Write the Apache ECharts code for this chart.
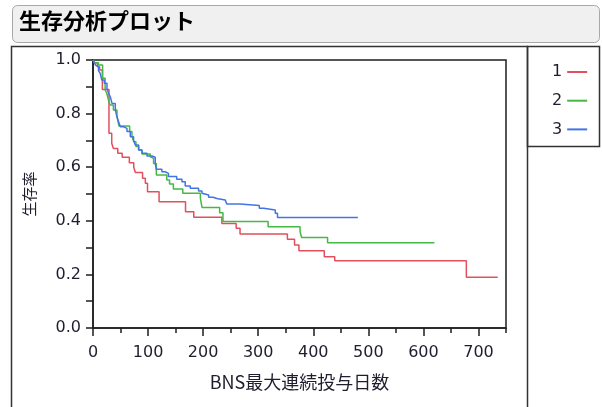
<!DOCTYPE html>
<html>
<head>
<meta charset="utf-8">
<script src="https://cdn.jsdelivr.net/npm/echarts@6/dist/echarts.min.js"></script>
<style>
html,body{margin:0;padding:0;background:#fff;}
#main{width:602px;height:407px;}
</style>
</head>
<body>
<div id="main"></div>
<script>
// ---- data ----
const titleText = '生存分析プロット';
const xTitle = 'BNS最大連続投与日数';
const yTitle = '生存率';
const groupNames = ['1', '2', '3'];

const redT = [0, 3, 8, 12, 17, 29, 34, 37, 45, 53, 66, 74, 77, 90, 95, 99, 120, 168, 183, 234, 260, 267, 353, 366, 374, 420, 439, 678, 735];
const redS = [1.0, 0.99, 0.975, 0.963, 0.89, 0.727, 0.689, 0.67, 0.652, 0.637, 0.617, 0.6, 0.58, 0.559, 0.54, 0.508, 0.471, 0.434, 0.413, 0.39, 0.372, 0.351, 0.331, 0.31, 0.288, 0.266, 0.251, 0.189, 0.189];

const greenT = [0, 3, 10, 17.5, 22, 25, 28, 31, 37, 43.5, 45.5, 47, 66.5, 70.7, 74, 78, 83, 89, 104, 107, 110, 115, 134, 139, 146, 163, 195, 198, 230, 236, 318, 376, 379, 426, 620];
const greenS = [1.0, 0.99, 0.981, 0.932, 0.888, 0.876, 0.851, 0.832, 0.813, 0.788, 0.77, 0.754, 0.733, 0.716, 0.695, 0.677, 0.664, 0.649, 0.639, 0.633, 0.614, 0.571, 0.552, 0.537, 0.519, 0.503, 0.484, 0.45, 0.43, 0.397, 0.378, 0.359, 0.338, 0.318, 0.318];

const blueT = [0, 2, 5, 7, 10, 13, 16, 20.5, 25.4, 28.3, 31.4, 34.5, 40.5, 43.6, 46.5, 49.6, 55.6, 61.7, 67.7, 73.7, 76.8, 82.8, 88.9, 98, 107, 113, 115, 125, 131, 137, 152, 161.5, 167.5, 176.6, 191.7, 197.9, 201, 210, 218, 225, 240, 243, 267, 302, 310, 331, 335, 481];
const blueS = [1.0, 0.99, 0.98, 0.975, 0.96, 0.95, 0.925, 0.913, 0.894, 0.876, 0.863, 0.838, 0.813, 0.788, 0.77, 0.751, 0.745, 0.733, 0.714, 0.701, 0.683, 0.664, 0.652, 0.642, 0.637, 0.614, 0.592, 0.583, 0.577, 0.565, 0.555, 0.546, 0.53, 0.521, 0.511, 0.503, 0.496, 0.488, 0.483, 0.478, 0.471, 0.463, 0.457, 0.447, 0.44, 0.428, 0.412, 0.412];

const seriesColors = ['#e0505e', '#45b845', '#4374e6'];

const pairs = (t, s) => t.map((v, i) => [v, s[i]]);
const curves = [pairs(redT, redS), pairs(greenT, greenS), pairs(blueT, blueS)];

const chart = echarts.init(document.getElementById('main'), null, {renderer: 'canvas'});
const axisColor = '#1e1e1e';
const labelFont = 'DejaVu Sans';
const cjkFont = '"Noto Sans CJK JP"';

chart.setOption({
  animation: false,
  backgroundColor: '#ffffff',
  textStyle: {fontFamily: labelFont},
  grid: {left: 93, right: 96, top: 60, bottom: 79, show: true, borderColor: axisColor, borderWidth: 1.5, backgroundColor: '#fff'},
  legend: {
    orient: 'vertical', left: 547, top: 59, align: 'right',
    icon: 'rect', itemWidth: 20, itemHeight: 2, itemGap: 12.7,
    data: groupNames,
    textStyle: {fontFamily: labelFont, fontSize: 16, lineHeight: 16, color: '#1e1e2e', padding: [0, 0, 0, 0]}
  },
  xAxis: [{
    type: 'value', min: 0, max: 750, interval: 100,
    name: xTitle, nameLocation: 'middle', nameGap: 45,
    nameTextStyle: {fontFamily: cjkFont, fontSize: 18, color: '#1e1e2e'},
    axisLine: {show: true, onZero: false, lineStyle: {color: axisColor, width: 1.5}},
    axisTick: {show: true, length: 8, lineStyle: {color: axisColor, width: 1.5}},
    axisLabel: {fontSize: 16, color: '#1e1e2e', margin: 17, showMaxLabel: false,
      formatter: v => (v % 100 === 0 ? String(v) : '')},
    splitLine: {show: false}
  }, {
    type: 'value', min: 0, max: 750, interval: 50, position: 'bottom',
    axisLine: {show: false},
    axisTick: {show: true, length: 5, lineStyle: {color: axisColor, width: 1.5}},
    axisLabel: {show: false},
    splitLine: {show: false}
  }],
  yAxis: {
    type: 'value', min: 0, max: 1, interval: 0.2,
    name: yTitle, nameLocation: 'middle', nameGap: 56, nameRotate: 90,
    nameTextStyle: {fontFamily: cjkFont, fontSize: 15, color: '#1e1e2e'},
    axisLine: {show: true, lineStyle: {color: axisColor, width: 1.5}},
    axisTick: {show: true, length: 7, lineStyle: {color: axisColor, width: 1.5}},
    minorTick: {show: true, splitNumber: 2, length: 7, lineStyle: {color: axisColor, width: 1.5}},
    axisLabel: {fontSize: 16, color: '#1e1e2e', margin: 12, formatter: v => v.toFixed(1)},
    splitLine: {show: false}
  },
  series: curves.map((d, i) => ({
    name: groupNames[i], type: 'line', step: 'end', data: d,
    showSymbol: false, symbol: 'none', clip: true,
    lineStyle: {color: seriesColors[i], width: 1.5},
    itemStyle: {color: seriesColors[i]},
    z: 3 + i
  })),
  graphic: [
    {type: 'rect', z: -10, shape: {x: 12.5, y: 5.5, width: 587, height: 37, r: 5},
     style: {fill: '#f0f0f0', stroke: '#a8a8a8', lineWidth: 1}},
    {type: 'text', z: 10, left: 19, top: 10,
     style: {text: titleText, font: 'bold 22px "Noto Sans CJK JP"', fill: '#000'}},
    {type: 'rect', z: -10, shape: {x: 11.5, y: 46.5, width: 516, height: 380},
     style: {fill: 'none', stroke: '#333', lineWidth: 1.5}},
    {type: 'rect', z: -10, shape: {x: 527.5, y: 46.5, width: 72, height: 100},
     style: {fill: 'none', stroke: '#333', lineWidth: 1.5}}
  ]
});
</script>
</body>
</html>
